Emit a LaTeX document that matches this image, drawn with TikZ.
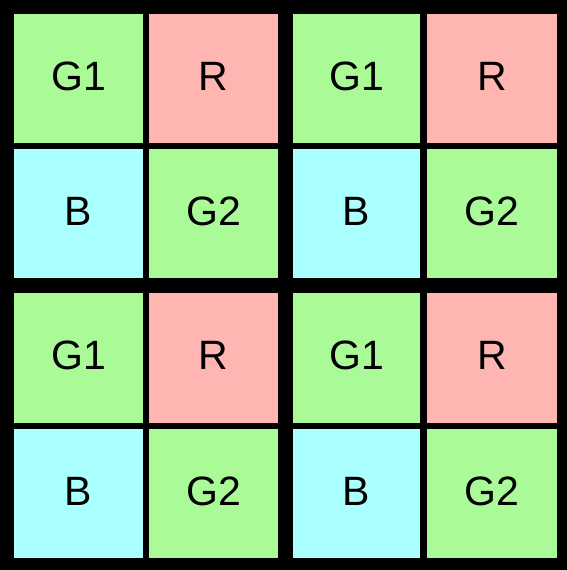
\documentclass[tikz,border=0pt]{standalone}
\usepackage{fontspec}
\setmainfont{Liberation Sans}
\usepackage{tikz}
\usetikzlibrary{positioning}
\definecolor{bayer-green}{RGB}{170,250,152}
\definecolor{bayer-red}{RGB}{255,182,178}
\definecolor{bayer-blue}{RGB}{170,255,255}

\begin{document}
\begin{tikzpicture}[x=1pt, y=1pt,
    cell/.style={rectangle, inner sep=0pt, minimum width=129pt, minimum height=129pt, text height=30pt, text depth=6pt, font=\fontsize{41}{41}\selectfont},
    gcell/.style={cell, fill=bayer-green},
    rcell/.style={cell, fill=bayer-red},
    bcell/.style={cell, fill=bayer-blue}]

    % Frame and grid lines (black background)
    \useasboundingbox (0,0) rectangle (567,570);
    \fill[black] (0,0) rectangle (567,570);

    % Row 1
    \node[gcell] (g1a) at (78.5,491.5) {G1};
    \node[rcell] (ra) at (213.5,491.5) {R};
    \node[gcell, minimum width=127pt] (g1b) at (356.5,491.5) {G1};
    \node[rcell, minimum width=130pt] (rb) at (492,491.5) {R};

    % Row 2
    \node[bcell] (ba) at (78.5,356.5) {B};
    \node[gcell] (g2a) at (213.5,356.5) {G2};
    \node[bcell, minimum width=127pt] (bb) at (356.5,356.5) {B};
    \node[gcell, minimum width=130pt] (g2b) at (492,356.5) {G2};

    % Row 3
    \node[gcell, minimum height=130pt] (g1c) at (78.5,212) {G1};
    \node[rcell, minimum height=130pt] (rc) at (213.5,212) {R};
    \node[gcell, minimum width=127pt, minimum height=130pt] (g1d) at (356.5,212) {G1};
    \node[rcell, minimum width=130pt, minimum height=130pt] (rd) at (492,212) {R};

    % Row 4
    \node[bcell] (bc) at (78.5,76.5) {B};
    \node[gcell] (g2c) at (213.5,76.5) {G2};
    \node[bcell, minimum width=127pt] (bd) at (356.5,76.5) {B};
    \node[gcell, minimum width=130pt] (g2d) at (492,76.5) {G2};
\end{tikzpicture}
\end{document}
